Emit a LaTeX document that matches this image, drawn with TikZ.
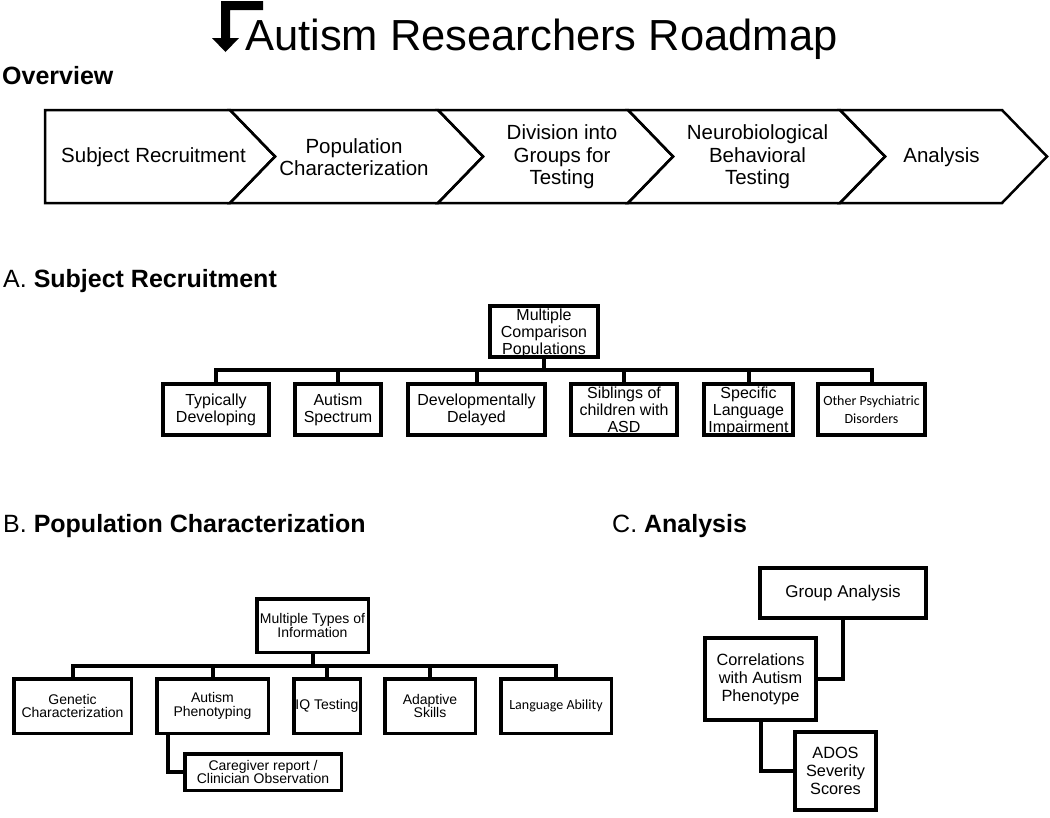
\documentclass[tikz,border=0pt]{standalone}
\usepackage{fontspec}
\setmainfont{Liberation Sans}
\newfontfamily\calib{Carlito}

\begin{document}
\begin{tikzpicture}[x=1pt,y=-1pt,line join=miter,
    chev/.style={draw,line width=2.5pt},
    ovtext/.style={align=center,inner sep=0pt,font=\fontsize{20.5}{22.5}\selectfont},
    head/.style={anchor=base west,inner sep=0pt,font=\fontsize{25}{30}\selectfont},
    boxa/.style={draw,line width=4pt,align=center,inner sep=0pt,minimum height=51,font=\fontsize{16}{17}\selectfont},
    tri/.style={text depth=0pt},
    boxb/.style={draw,line width=3.5pt,align=center,inner sep=0pt,minimum height=54.5,font=\fontsize{14}{13.5}\selectfont},
    boxc/.style={draw,line width=4pt,align=center,inner sep=0pt,font=\fontsize{16.3}{18}\selectfont},
    wire/.style={line width=4pt},
    odd/.style={font=\calib\fontsize{14}{18}\selectfont}]
    \useasboundingbox (0,0) rectangle (1050,817);
    \fill (221,1)--(263,1)--(263,10)--(230,10)--(230,38)--(239,38)--(225.5,52)--(212,38)--(221,38)--cycle;
    \node[anchor=base west,inner sep=0pt,font=\fontsize{43.5}{50}\selectfont] (title) at (245,50) {Autism Researchers Roadmap};
    \node[head] (ov) at (2,84) {\bfseries Overview};
    \draw[chev] (45,110)--(230,110)--(275,156.5)--(230,203)--(45,203)--cycle;
    \foreach \l/\r in {230/438,438/628,628/840,840/1002}
        \draw[chev] (\l,110)--(\r,110)--(\r+45,156.5)--(\r,203)--(\l,203)--(\l+45,156.5)--cycle;
    \node[ovtext] (o1) at (153.5,157) {Subject Recruitment};
    \node[ovtext] (o2) at (354,157) {Population\\Characterization};
    \node[ovtext] (o3) at (562,157) {Division into\\Groups for\\Testing};
    \node[ovtext] (o4) at (757.5,157) {Neurobiological\\Behavioral\\Testing};
    \node[ovtext] (o5) at (941.5,157) {Analysis};

    \node[head] (hA) at (3,287) {A. \textbf{Subject Recruitment}};
    \node[boxa,tri,minimum width=108] (mcp) at (544,331.5) {Multiple\\Comparison\\Populations};
    \node[boxa,minimum width=106] (td) at (216,409.5) {Typically\\Developing};
    \node[boxa,minimum width=86] (as) at (338,409.5) {Autism\\Spectrum};
    \node[boxa,minimum width=137] (dd) at (476.5,409.5) {Developmentally\\Delayed};
    \node[boxa,tri,minimum width=106] (sib) at (624,409.5) {Siblings of\\children with\\ASD};
    \node[boxa,tri,minimum width=89] (sli) at (748.5,409.5) {Specific\\Language\\Impairment};
    \node[boxa,odd,minimum width=107] (oth) at (871.5,409.5) {Other Psychiatric\\Disorders};
    \coordinate (busA) at (0,370);
    \draw[wire] (mcp.south)--(mcp.south |- busA);
    \draw[wire] (td.north)--(td.north |- busA)--(oth.north |- busA)--(oth.north);
    \foreach \n in {as,dd,sib,sli}
        \draw[wire] (\n.north)--(\n.north |- busA);

    \node[head] (hB) at (3,532) {B. \textbf{Population Characterization}};
    \node[boxb,minimum width=111.5,minimum height=53.5] (mti) at (312.5,625.5) {Multiple Types of\\Information};
    \node[boxb,minimum width=117.5] (gen) at (72.5,706) {Genetic\\Characterization};
    \node[boxb,minimum width=111.5] (aph) at (212.5,706) {Autism\\Phenotyping};
    \node[boxb,minimum width=66.5] (iq) at (327,706) {IQ Testing};
    \node[boxb,minimum width=90.5] (ada) at (430,706) {Adaptive\\Skills};
    \node[boxb,odd,minimum width=110.5] (lang) at (556,706) {Language Ability};
    \node[boxb,minimum width=156.5,minimum height=36.5] (care) at (263,772) {Caregiver report /\\Clinician Observation};
    \coordinate (busB) at (0,666);
    \draw[wire] (mti.south)--(mti.south |- busB);
    \draw[wire] (gen.north)--(gen.north |- busB)--(lang.north |- busB)--(lang.north);
    \foreach \n in {aph,iq,ada}
        \draw[wire] (\n.north)--(\n.north |- busB);
    \draw[wire] ([xshift=-44.5]aph.south) |- (care.west);

    \node[head] (hC) at (612,532) {C. \textbf{Analysis}};
    \node[boxc,minimum width=166,minimum height=50,font=\fontsize{17}{18}\selectfont] (ga) at (843,593) {Group Analysis};
    \node[boxc,minimum width=111,minimum height=82] (cor) at (760.5,679) {Correlations\\with Autism\\Phenotype};
    \node[boxc,minimum width=81,minimum height=78] (ados) at (835.5,771) {ADOS\\Severity\\Scores};
    \draw[wire] (ga.south) |- (cor.east);
    \draw[wire] (cor.south) |- (ados.west);
\end{tikzpicture}
\end{document}
